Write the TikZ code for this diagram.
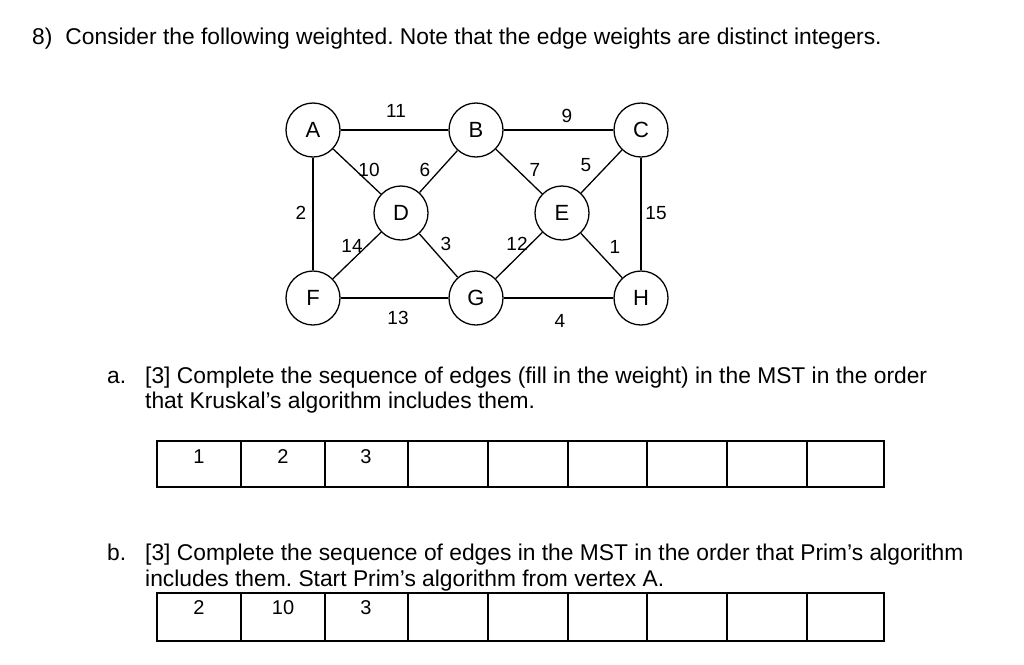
\documentclass[tikz,border=0pt]{standalone}
\usepackage{fontspec}
\setmainfont{Liberation Sans}
\frenchspacing
\begin{document}
\begin{tikzpicture}[x=1pt,y=-1pt,
  vtx/.style={circle,draw,line width=1.3pt,minimum size=54pt,inner sep=0pt,font=\fontsize{22}{26}\selectfont,fill=white},
  ed/.style={line width=1.3pt},
  wt/.style={font=\fontsize{19}{22}\selectfont},
  txt/.style={anchor=base west,font=\fontsize{22.8}{27}\selectfont,inner sep=0pt},
  cell/.style={font=\fontsize{20}{24}\selectfont}]
\useasboundingbox (0,0) rectangle (1024,664);
\node[txt] (title) at (32,44) {8)\hspace{13pt}Consider the following weighted. Note that the edge weights are distinct integers.};
\foreach \n/\x/\y in {A/313/130,B/476/130,C/641/130,D/401/213,E/562/213,F/313/298,G/476/298,H/641/298}
  \node[vtx] (\n) at (\x,\y) {\n};
\foreach \a/\b in {A/B,B/C,A/D,D/B,B/E,E/C,A/F,C/H,F/D,D/G,G/E,E/H,F/G,G/H}
  \draw[ed] (\a) -- (\b);
\foreach \t/\x/\y in {11/396/111,9/567/116,10/369/170,6/425/170,7/535/170,5/586/165,2/301/213,15/656/213,14/352/246,3/446/244,12/517/244,1/615/247,13/398/318,4/560/321}
  \node[wt] (w\t) at (\x,\y) {\t};
\node[txt] (a) at (107,383) {a.};
\node[txt] (at1) at (145,383) {[3] Complete the sequence of edges (fill in the weight) in the MST in the order};
\node[txt] (at2) at (145,408) {that Kruskal’s algorithm includes them.};
\node[txt] (b) at (107,560) {b.};
\node[txt] (bt1) at (145,560) {[3] Complete the sequence of edges in the MST in the order that Prim’s algorithm};
\node[txt] (bt2) at (145,586) {includes them. Start Prim’s algorithm from vertex A.};
\draw[line width=1.3pt] (157,441) rectangle (884,487);
\draw[line width=1.3pt] (157,593) rectangle (884,641);
\foreach \x in {241,325,408,488,568,647,727,807}{
  \draw[line width=1.2pt] (\x,441) -- (\x,487);
  \draw[line width=1.2pt] (\x,593) -- (\x,641);}
\foreach \t/\x in {1/199,2/283,3/366} \node[cell] (k\t) at (\x,457) {\t};
\foreach \t/\x/\i in {2/199/1,10/283/2,3/366/3} \node[cell] (p\i) at (\x,608) {\t};
\end{tikzpicture}
\end{document}
